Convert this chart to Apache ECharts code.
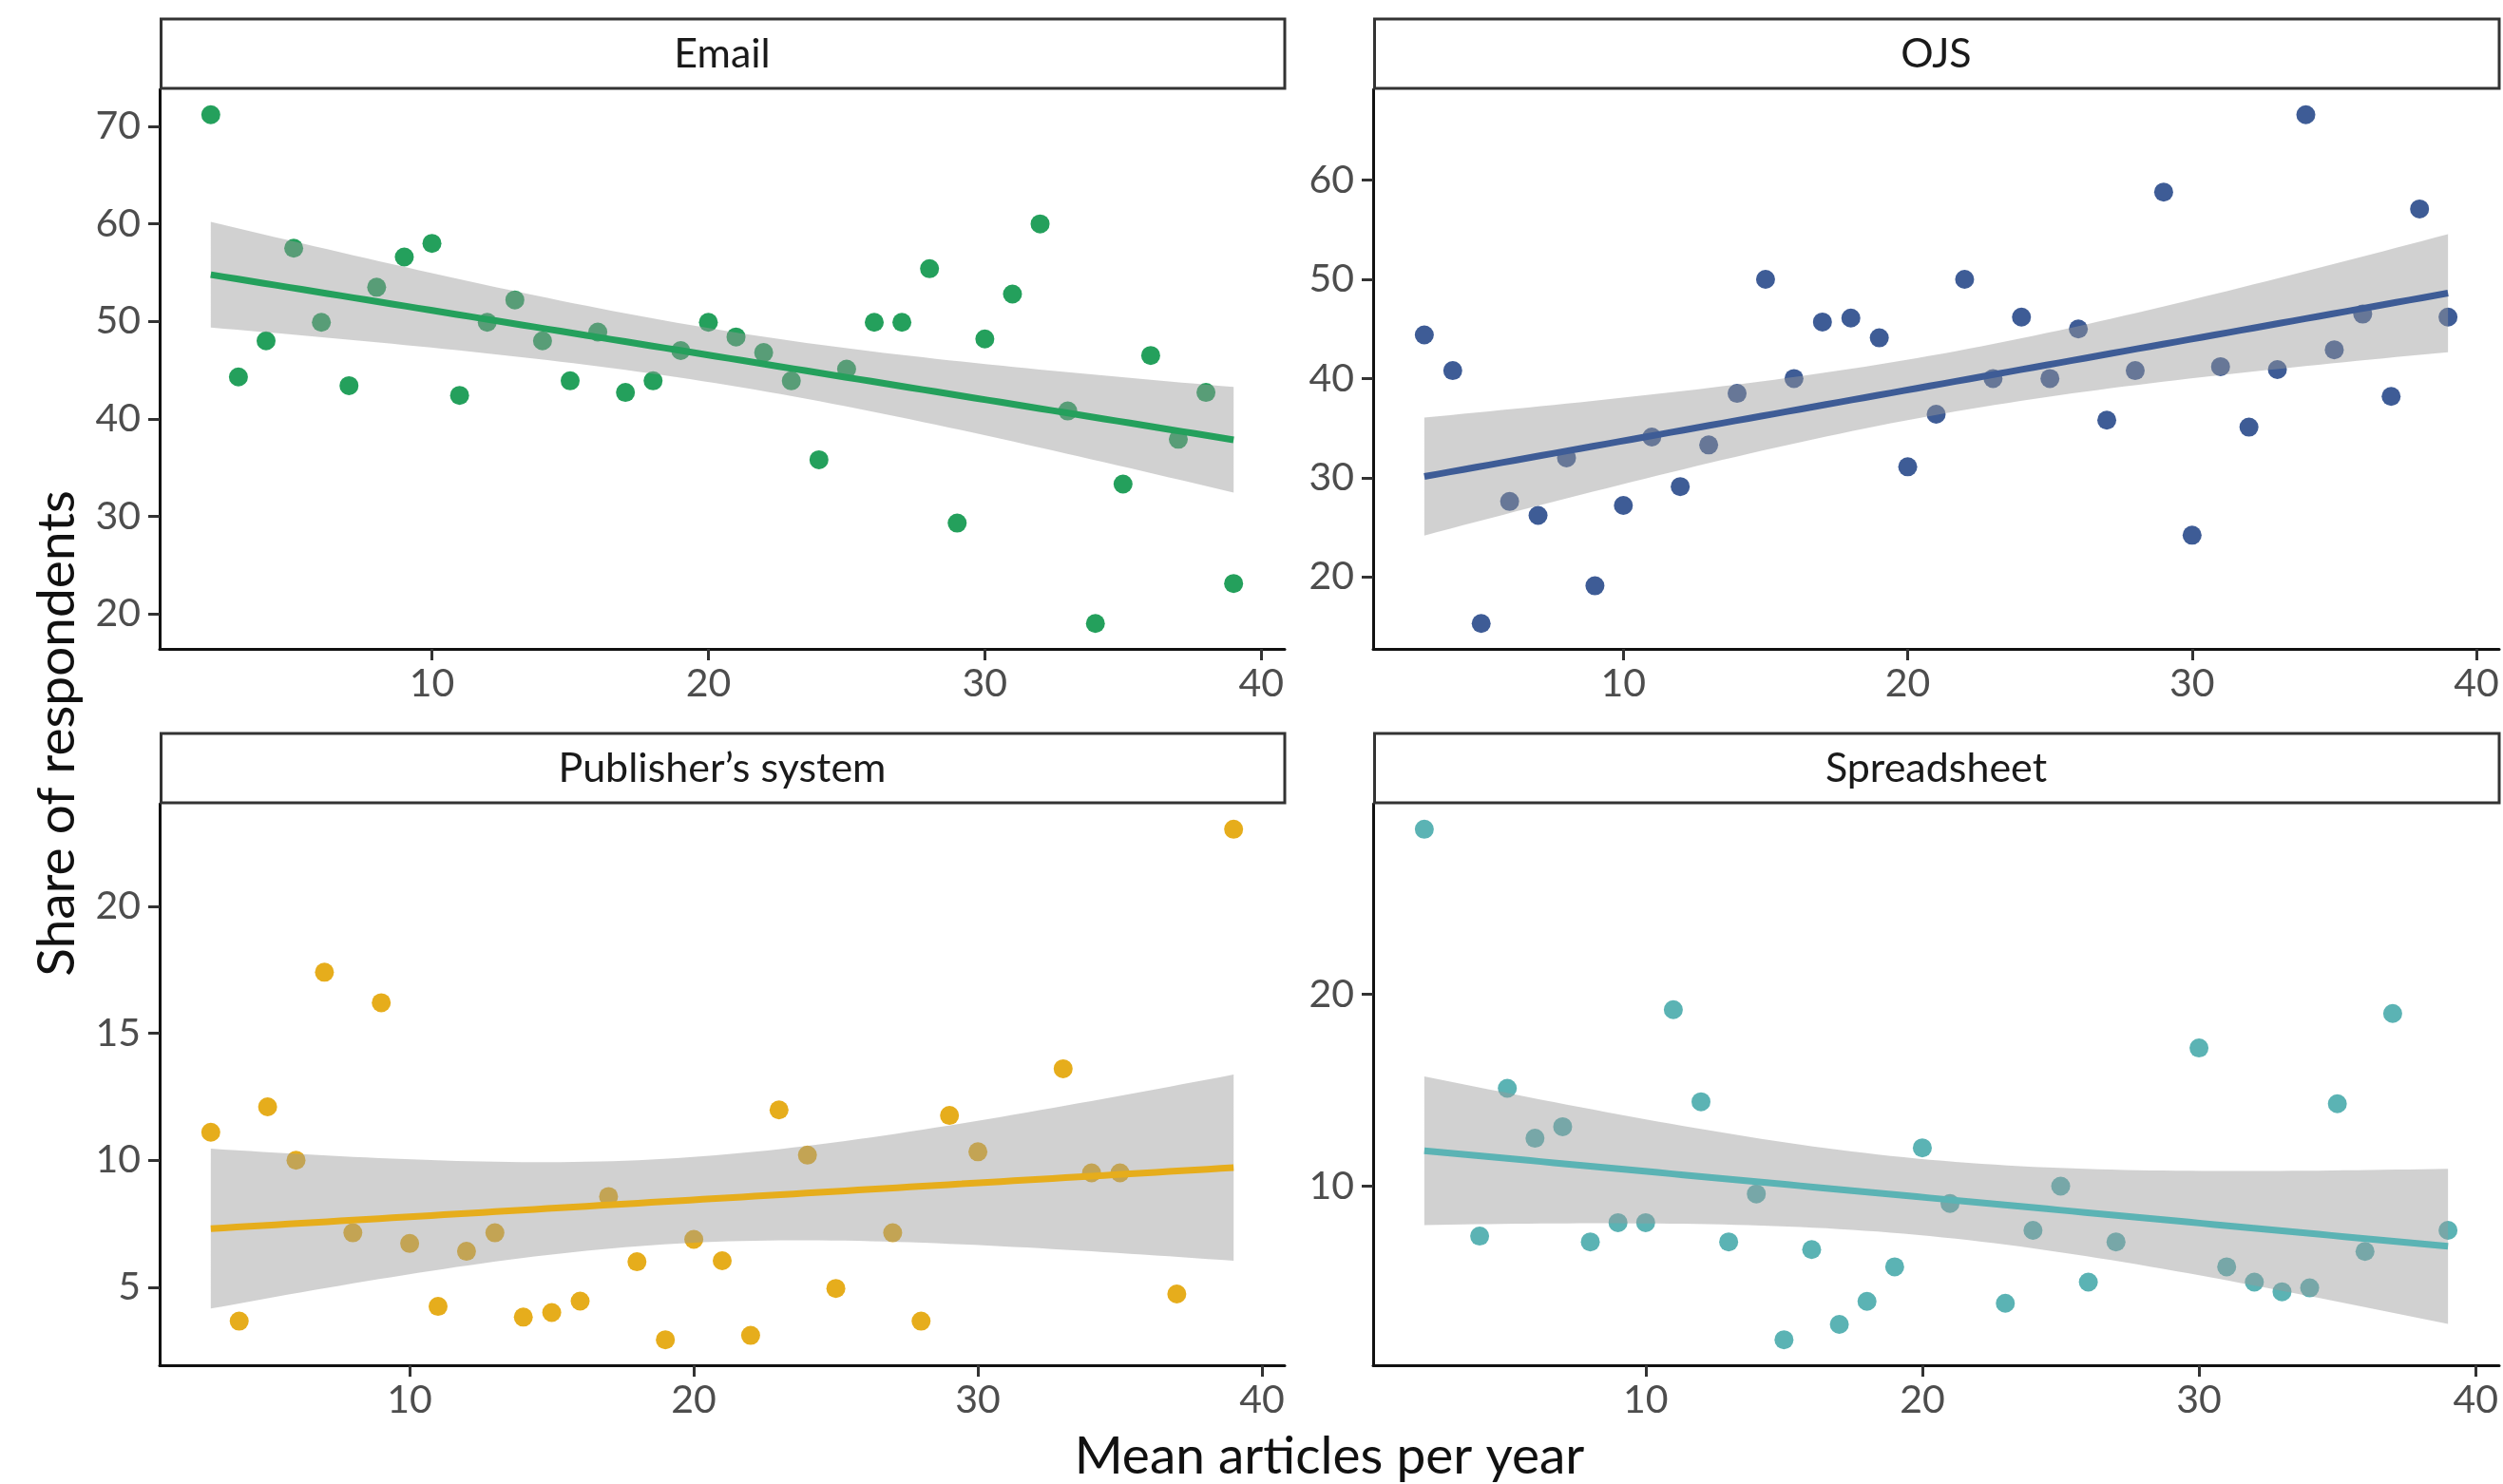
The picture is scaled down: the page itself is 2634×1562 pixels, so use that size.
<!DOCTYPE html>
<html>
<head>
<meta charset="utf-8">
<script src="https://cdn.jsdelivr.net/npm/echarts@6/dist/echarts.min.js"></script>
<style>
html,body{margin:0;padding:0;background:#ffffff;}
#chart{width:2634px;height:1562px;}
</style>
</head>
<body>
<div id="chart"></div>
<script>
// ---------------- data ----------------
const panelNames = ['Email', 'OJS', 'Publisher\u2019s system', 'Spreadsheet'];

const emailX = [2,3,4,5,6,7,8,9,10,11,12,13,14,15,16,17,18,19,20,21,22,23,24,25,26,27,28,29,30,31,32,33,34,35,36,37,38,39];
const emailY = [71.2,44.3,48.0,57.5,49.9,43.4,53.5,56.6,58.0,42.4,49.9,52.2,48.0,43.9,48.9,42.7,43.9,47.0,49.9,48.4,46.8,43.9,35.8,45.1,49.9,49.9,55.4,29.3,48.2,52.8,60.0,40.8,19.0,33.3,46.5,37.9,42.7,23.1];

const ojsX = [3,4,5,6,7,8,9,10,11,12,13,14,15,16,17,18,19,20,21,22,23,24,25,26,27,28,29,30,31,32,33,34,35,36,37,38,39];
const ojsY = [44.4,40.8,15.3,27.6,26.2,32.0,19.1,27.2,34.1,29.1,33.3,38.5,50.0,40.0,45.7,46.1,44.1,31.1,36.4,50.0,40.0,46.2,40.0,45.0,35.8,40.8,58.8,24.2,41.2,35.1,40.9,66.6,42.9,46.5,38.2,57.1,46.2];

const publisherX = [3,4,5,6,7,8,9,10,11,12,13,14,15,16,17,18,19,20,21,22,23,24,25,27,28,29,30,33,34,35,37,39];
const publisherY = [11.1,3.66,12.1,10.0,17.4,7.14,16.2,6.72,4.24,6.41,7.14,3.82,4.0,4.45,8.57,6.0,2.93,6.88,6.04,3.1,11.98,10.2,4.95,7.14,3.66,11.76,10.33,13.6,9.5,9.5,4.73,23.03];

const spreadsheetX = [2,4,5,6,7,8,9,10,11,12,13,14,15,16,17,18,19,20,21,23,24,25,26,27,30,31,32,33,34,35,36,37,39];
const spreadsheetY = [28.6,7.4,15.1,12.5,13.1,7.1,8.1,8.1,19.2,14.4,7.1,9.6,2.0,6.7,2.8,4.0,5.8,12.0,9.1,3.9,7.7,10.0,5.0,7.1,17.2,5.8,5.0,4.5,4.7,14.3,6.6,19.0,7.7];

// tick labels
const xTicks = [10, 20, 30, 40];
const emailYTicks = [20, 30, 40, 50, 60, 70];
const ojsYTicks = [20, 30, 40, 50, 60];
const publisherYTicks = [5, 10, 15, 20];
const spreadsheetYTicks = [10, 20];

const xTitle = 'Mean articles per year';
const yTitle = 'Share of respondents';

// ---------------- styling / layout ----------------
const colors = ['#24a05c', '#3e5c96', '#e6ad1c', '#5bb3b4'];
const FONT = 'Lato, "Open Sans", "Noto Sans", sans-serif';
const grids = [
  {left: 168,  top: 94,  width: 1184, height: 589},
  {left: 1445, top: 94,  width: 1185, height: 589},
  {left: 168,  top: 846, width: 1184, height: 591},
  {left: 1445, top: 846, width: 1185, height: 591}
];
const stripTop = [20, 20, 772, 772];
const stripH = 74;

const panels = [
  {xs: emailX, ys: emailY, yTicks: emailYTicks},
  {xs: ojsX, ys: ojsY, yTicks: ojsYTicks},
  {xs: publisherX, ys: publisherY, yTicks: publisherYTicks},
  {xs: spreadsheetX, ys: spreadsheetY, yTicks: spreadsheetYTicks}
];

// ggplot-like 5% expansion of a data range
function expand(arr) {
  const lo = Math.min(...arr), hi = Math.max(...arr);
  const d = (hi - lo) * 0.05;
  return [lo - d, hi + d];
}

// Student t 97.5% quantile (Cornish-Fisher expansion)
function tQuantile(nu) {
  const z = 1.959963985;
  const z3 = z*z*z, z5 = z3*z*z, z7 = z5*z*z;
  return z + (z3 + z)/(4*nu) + (5*z5 + 16*z3 + 3*z)/(96*nu*nu) + (3*z7 + 19*z5 + 17*z3 - 15*z)/(384*nu*nu*nu);
}

// linear model fit + 95% confidence band, as geom_smooth(method = "lm")
function lmSmooth(xs, ys) {
  const n = xs.length;
  const xb = xs.reduce((a, b) => a + b, 0) / n;
  const yb = ys.reduce((a, b) => a + b, 0) / n;
  let sxx = 0, sxy = 0;
  for (let i = 0; i < n; i++) { sxx += (xs[i]-xb)*(xs[i]-xb); sxy += (xs[i]-xb)*(ys[i]-yb); }
  const b = sxy / sxx, a = yb - b * xb;
  let sse = 0;
  for (let i = 0; i < n; i++) { const r = ys[i] - (a + b*xs[i]); sse += r*r; }
  const s2 = sse / (n - 2);
  const t = tQuantile(n - 2);
  const x0 = Math.min(...xs), x1 = Math.max(...xs);
  const out = [];
  for (let k = 0; k < 80; k++) {
    const x = x0 + (x1 - x0) * k / 79;
    const f = a + b * x;
    const se = Math.sqrt(s2 * (1/n + (x-xb)*(x-xb)/sxx));
    out.push([x, f, f - t*se, f + t*se]);
  }
  return out;
}

const xAxes = [], yAxes = [], series = [], graphics = [];

panels.forEach((p, i) => {
  const xr = expand(p.xs), yr = expand(p.ys);
  const axisLine = {show: true, onZero: false, lineStyle: {color: '#111', width: 3}};
  const tickStyle = {color: '#333', width: 3};
  xAxes.push({
    gridIndex: i, type: 'value', min: xr[0], max: xr[1],
    axisLine: axisLine,
    axisTick: {show: true, length: 12, lineStyle: tickStyle, customValues: xTicks},
    axisLabel: {show: true, customValues: xTicks, fontSize: 41, color: '#4d4d4d', fontFamily: FONT, margin: 16},
    splitLine: {show: false}
  });
  yAxes.push({
    gridIndex: i, type: 'value', min: yr[0], max: yr[1],
    axisLine: axisLine,
    axisTick: {show: true, length: 12, lineStyle: tickStyle, customValues: p.yTicks},
    axisLabel: {show: true, customValues: p.yTicks, fontSize: 41, color: '#4d4d4d', fontFamily: FONT, margin: 20},
    splitLine: {show: false}
  });

  const sm = lmSmooth(p.xs, p.ys);
  series.push({
    type: 'scatter', xAxisIndex: i, yAxisIndex: i, z: 1,
    data: p.xs.map((x, k) => [x, p.ys[k]]),
    symbol: 'circle', symbolSize: 20,
    itemStyle: {color: colors[i], opacity: 1},
    silent: true
  });
  // confidence ribbon: one polygon through the library's coordinate system
  series.push({
    type: 'custom', xAxisIndex: i, yAxisIndex: i, z: 2, silent: true,
    data: sm,
    encode: {x: 0, y: [2, 3]},
    renderItem: function (params, api) {
      if (params.dataIndex !== 0) return null;
      const upper = sm.map(d => api.coord([d[0], d[3]]));
      const lower = sm.map(d => api.coord([d[0], d[2]])).reverse();
      return {
        type: 'polygon',
        shape: {points: upper.concat(lower)},
        style: {fill: 'rgba(153,153,153,0.45)', stroke: null}
      };
    }
  });
  series.push({
    type: 'line', xAxisIndex: i, yAxisIndex: i, z: 3,
    data: sm.map(d => [d[0], d[1]]),
    symbol: 'none', lineStyle: {color: colors[i], width: 7}, silent: true
  });

  const g = grids[i];
  graphics.push({
    type: 'rect', z: 10,
    shape: {x: g.left + 1.5, y: stripTop[i], width: g.width - 1.5, height: stripH - 1},
    style: {fill: '#ffffff', stroke: '#333333', lineWidth: 3}
  });
  graphics.push({
    type: 'text', z: 11,
    x: g.left + g.width / 2, y: stripTop[i] + stripH / 2,
    style: {text: panelNames[i], fontSize: 43, fontFamily: FONT, fill: '#1a1a1a',
            align: 'center', verticalAlign: 'middle', textAlign: 'center', textVerticalAlign: 'middle'}
  });
});

graphics.push({
  type: 'text', z: 11, x: 1399, y: 1533,
  style: {text: xTitle, fontSize: 55, fontFamily: FONT, fill: '#111',
          align: 'center', verticalAlign: 'middle', textAlign: 'center', textVerticalAlign: 'middle'}
});
graphics.push({
  type: 'text', z: 11, x: 60, y: 772, rotation: Math.PI / 2,
  style: {text: yTitle, fontSize: 55, fontFamily: FONT, fill: '#111',
          align: 'center', verticalAlign: 'middle', textAlign: 'center', textVerticalAlign: 'middle'}
});

const chart = echarts.init(document.getElementById('chart'), null, {renderer: 'canvas'});
chart.setOption({
  animation: false,
  backgroundColor: '#ffffff',
  grid: grids.map(g => Object.assign({containLabel: false}, g)),
  xAxis: xAxes,
  yAxis: yAxes,
  series: series,
  graphic: {elements: graphics}
});
</script>
</body>
</html>
